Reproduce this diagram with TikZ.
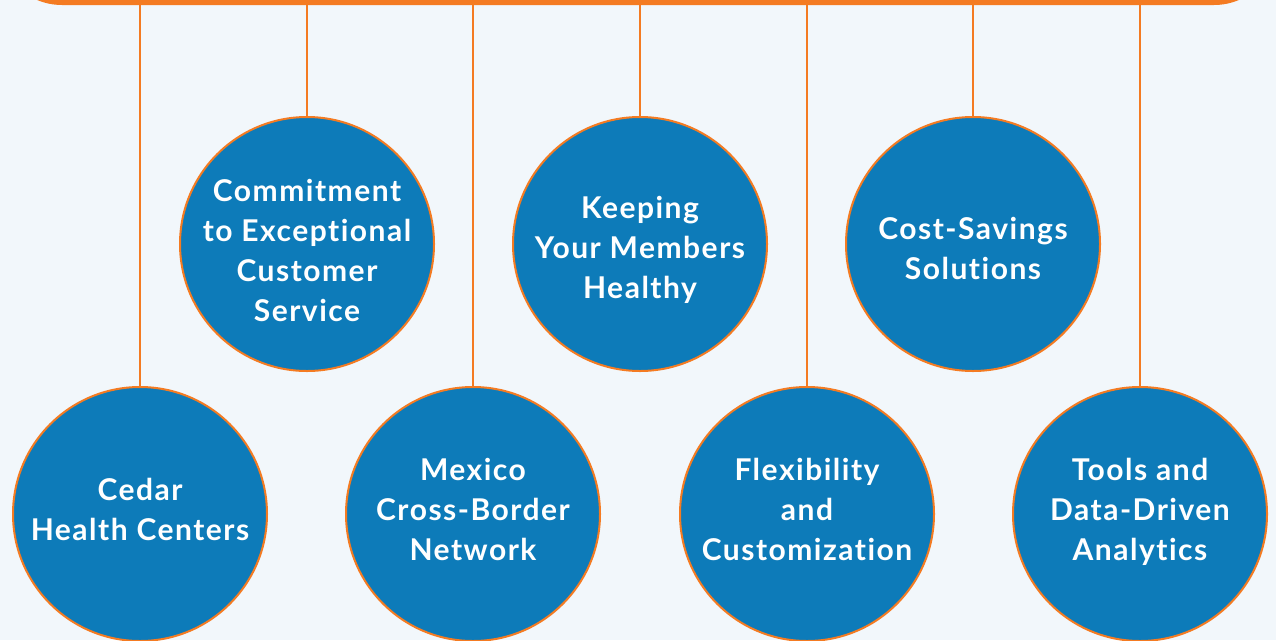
\documentclass[tikz,border=0pt]{standalone}
\usepackage{fontspec}
\setmainfont{Lato}
\newfontfamily\bubblefont[LetterSpace=5,Ligatures=NoCommon]{Lato}
\definecolor{bg}{HTML}{F2F7FB}
\definecolor{orng}{HTML}{F47B22}
\definecolor{blu}{HTML}{0D7BB9}
\begin{document}
\begin{tikzpicture}[x=1pt,y=-1pt,
  bubble/.style={circle,fill=blu,draw=orng,line width=2pt,minimum size=254pt,inner sep=0pt},
  btext/.style={text=white,align=center,inner sep=0pt,
    font=\bubblefont\fontsize{30}{40}\selectfont\bfseries},
  hang/.style={draw=orng,line width=2.2pt}]
\fill[bg] (0,0) rectangle (1276,640);
\useasboundingbox (0,0) rectangle (1276,640);
\begin{scope}
\clip (0,0) rectangle (1276,640);
\node[fill=orng,rounded corners=64pt,minimum width=1280pt,minimum height=90pt,inner sep=0pt] (bar) at (638,-40) {};
\node[bubble] (c1) at (140,514) {};
\node[bubble] (c2) at (307,244) {};
\node[bubble] (c3) at (473,514) {};
\node[bubble] (c4) at (640,244) {};
\node[bubble] (c5) at (807,514) {};
\node[bubble] (c6) at (973,244) {};
\node[bubble] (c7) at (1140,514) {};
\node[btext,yshift=5pt] (t1) at (c1.center) {Cedar\\Health Centers};
\node[btext,yshift=-6pt] (t2) at (c2.center) {Commitment\\to Exceptional\\Customer\\Service};
\node[btext,yshift=5pt] (t3) at (c3.center) {Mexico\\Cross-Border\\Network};
\node[btext,yshift=-6pt] (t4) at (c4.center) {Keeping\\Your Members\\Healthy};
\node[btext,yshift=5pt] (t5) at (c5.center) {Flexibility\\and\\Customization};
\node[btext,yshift=-4pt] (t6) at (c6.center) {Cost-Savings\\Solutions};
\node[btext,yshift=2pt] (t7) at (c7.center) {Tools and\\Data-Driven\\Analytics};
\foreach \c in {c1,c2,c3,c4,c5,c6,c7}{
  \draw[hang] (bar.south -| \c.north) -- (\c.north);
}
\end{scope}
\end{tikzpicture}
\end{document}
